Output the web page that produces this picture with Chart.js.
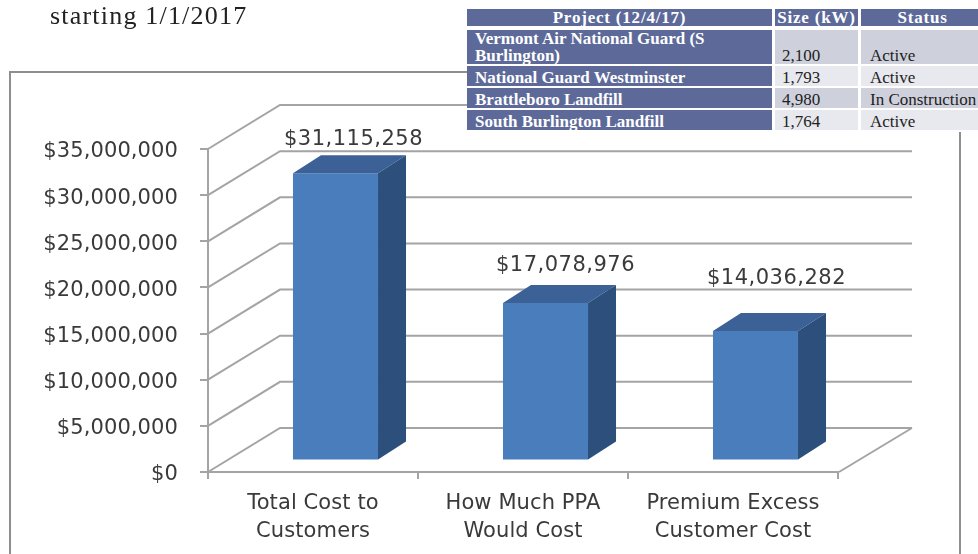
<!DOCTYPE html>
<html>
<head>
<meta charset="utf-8">
<script src="https://cdn.jsdelivr.net/npm/chart.js@4"></script>
<style>
html, body { margin: 0; padding: 0; background: #fff; }
#wrap { position: relative; width: 978px; height: 554px; overflow: hidden; filter: blur(0.45px); }
#frame { position: absolute; left: 9px; top: 71px; width: 952px; height: 500px; border: 2px solid #8e8e8e; box-sizing: border-box; }
#chart { position: absolute; left: 0; top: 0; }
#caption { position: absolute; left: 50px; top: 1px; font: 26px "Liberation Serif", serif; letter-spacing: 1.2px; color: #222; }
#projects { position: absolute; left: 467px; top: 7px; width: 520px; table-layout: fixed; border-collapse: separate; border-spacing: 0 2px;
    font: 17px/17px "Liberation Serif", serif; color: #222; background: #fff; }
#projects th { background: #5d6a99; background-clip: padding-box; color: #fff; text-align: center; height: 17px; padding: 0; font-weight: bold; letter-spacing: .8px;
    border-right: 3px solid #fff; border-bottom: 2px solid #fff; white-space: nowrap; }
#projects td { padding: 0 0 0 7px; vertical-align: bottom; border-right: 3px solid #fff; height: 20px; white-space: nowrap; }
#projects td:first-child { background: #5d6a99; color: #fff; font-weight: bold; padding-left: 8px; white-space: normal; }
#projects td:last-child { padding-left: 9px; }
#projects tr.dark td:not(:first-child) { background: #ced1dc; }
#projects tr.light td:not(:first-child) { background: #e8e9ee; }
</style>
</head>
<body>
<div id="wrap">
    <div id="caption">starting 1/1/2017</div>
    <div id="frame"></div>
    <canvas id="chart" width="978" height="554"></canvas>
    <table id="projects"><colgroup><col style="width:308px"><col style="width:86px"><col></colgroup><thead></thead><tbody></tbody></table>
</div>
<script>
const categories = [['Total Cost to', 'Customers'], ['How Much PPA', 'Would Cost'], ['Premium Excess', 'Customer Cost']];
const costs = [31115258, 17078976, 14036282];
const costLabels = ['$31,115,258', '$17,078,976', '$14,036,282'];
const yTicks = [0, 5000000, 10000000, 15000000, 20000000, 25000000, 30000000, 35000000];

const tableHead = ['Project (12/4/17)', 'Size (kW)', 'Status'];
const projectNames = ['Vermont Air National Guard (S Burlington)', 'National Guard Westminster', 'Brattleboro Landfill', 'South Burlington Landfill'];
const projectSizes = ['2,100', '1,793', '4,980', '1,764'];
const projectStatus = ['Active', 'Active', 'In Construction', 'Active'];

// table on top of the chart
document.querySelector('#projects thead').innerHTML =
    '<tr>' + tableHead.map((x) => '<th>' + x + '</th>').join('') + '</tr>';
document.querySelector('#projects tbody').innerHTML = projectNames.map((name, i) =>
    '<tr class="' + (i % 2 ? 'light' : 'dark') + '"><td>' + name + '</td><td>' + projectSizes[i] + '</td><td>' + projectStatus[i] + '</td></tr>'
).join('');

const lineGray = '#a4a4a4';
const textGray = '#3a3a3a';
const wallDx = 72, wallDy = -44;     // back wall offset
const barShiftX = 22.5, barShiftY = -11.5; // bars stand in the middle of the floor
const barDx = 28, barDy = -18;       // bar depth
const labelLift = [34, 37, 52];
const labelNudge = [-2, 0, 1];

// fake 3d walls and floor
const wallPlugin = {
    id: 'walls',
    beforeDraw(chart) {
        chart.ctx.letterSpacing = '0.1px';
    },
    beforeDatasetsDraw(chart) {
        const ctx = chart.ctx, y = chart.scales.y, a = chart.chartArea;
        ctx.save();
        ctx.strokeStyle = lineGray;
        ctx.lineWidth = 2;
        ctx.beginPath();
        yTicks.forEach((t) => {
            const py = y.getPixelForValue(t);
            ctx.moveTo(a.left, py);
            ctx.lineTo(a.left + wallDx, py + wallDy);
            ctx.lineTo(a.right + wallDx + 2, py + wallDy);
        });
        ctx.moveTo(a.right + 1, a.bottom);
        ctx.lineTo(a.right + wallDx + 2, a.bottom + wallDy);
        ctx.stroke();
        ctx.restore();
        ctx.save();
        ctx.translate(barShiftX, barShiftY);
    },
    afterDatasetsDraw(chart) {
        const ctx = chart.ctx;
        chart.getDatasetMeta(0).data.forEach((bar) => {
            const l = bar.x - bar.width / 2, r = bar.x + bar.width / 2;
            ctx.fillStyle = '#3b6196';
            ctx.beginPath();
            ctx.moveTo(l, bar.y);
            ctx.lineTo(l + barDx, bar.y + barDy);
            ctx.lineTo(r + barDx, bar.y + barDy);
            ctx.lineTo(r, bar.y);
            ctx.fill();
            ctx.fillStyle = '#2c4f7c';
            ctx.beginPath();
            ctx.moveTo(r, bar.y);
            ctx.lineTo(r + barDx, bar.y + barDy);
            ctx.lineTo(r + barDx, bar.base + barDy);
            ctx.lineTo(r, bar.base);
            ctx.fill();
        });
        ctx.restore();
        // value labels
        ctx.save();
        ctx.font = '21px "DejaVu Sans"';
        ctx.letterSpacing = '0.5px';
        ctx.fillStyle = textGray;
        ctx.textAlign = 'center';
        ctx.textBaseline = 'middle';
        chart.getDatasetMeta(0).data.forEach((bar, i) => {
            ctx.fillText(costLabels[i], bar.x + barShiftX + 20 + labelNudge[i], bar.y + barShiftY - labelLift[i]);
        });
        ctx.restore();
    }
};

const myChart = new Chart(document.querySelector('#chart').getContext('2d'), {
    type: 'bar',
    data: {
        labels: categories,
        datasets: [{
            data: costs,
            backgroundColor: '#4a7dbb',
            borderWidth: 0,
            barPercentage: 0.405,
            categoryPercentage: 1,
        }]
    },
    options: {
        responsive: false,
        animation: false,
        layout: { padding: { top: 149, right: 140 } },
        plugins: { legend: { display: false }, tooltip: { enabled: false } },
        scales: {
            x: {
                afterFit(s) { s.height = 82; },
                grid: { drawOnChartArea: false, color: lineGray, lineWidth: 2, tickLength: 7, offset: true },
                border: { color: lineGray, width: 2 },
                ticks: { color: textGray, padding: 10, maxRotation: 0, font: { family: 'DejaVu Sans', size: 21, lineHeight: 1.35 } },
            },
            y: {
                min: 0,
                max: 35000000,
                afterFit(s) { s.width = 208; },
                afterBuildTicks(s) { s.ticks = yTicks.map((v) => ({ value: v })); },
                grid: { drawOnChartArea: false, color: lineGray, lineWidth: 2, tickLength: 8 },
                border: { color: lineGray, width: 2 },
                ticks: {
                    color: textGray, padding: 22, labelOffset: 3,
                    font: { family: 'DejaVu Sans', size: 21 },
                    callback: (v) => '$' + v.toLocaleString('en-US'),
                },
            },
        },
    },
    plugins: [wallPlugin],
});
</script>
</body>
</html>
